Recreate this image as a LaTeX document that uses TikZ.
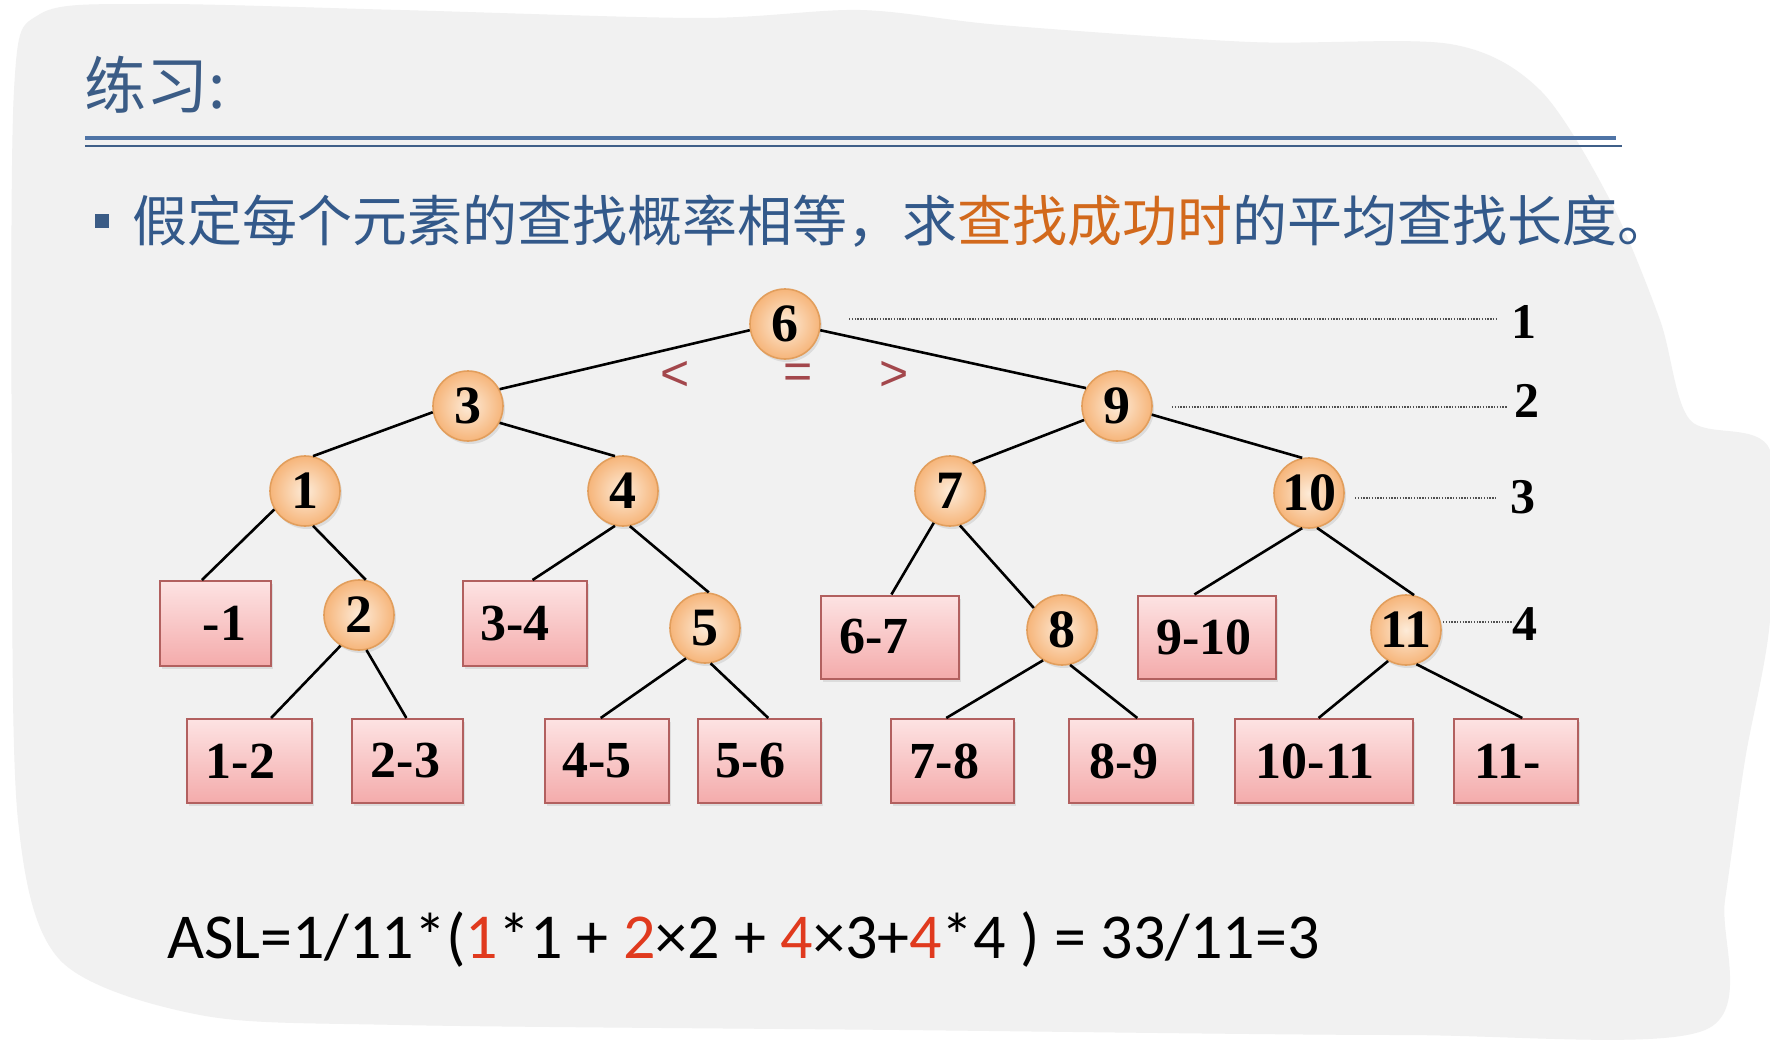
\documentclass[tikz,border=0pt]{standalone}
\usepackage{fontspec}
\usetikzlibrary{shadows,calc}
\newfontfamily\cjk{Noto Sans CJK SC}
\newfontfamily\numf{Liberation Serif}
\newfontfamily\calf{Carlito}
\newfontfamily\sansf{Liberation Sans}
\definecolor{bggray}{HTML}{F1F1F1}
\definecolor{titleblue}{HTML}{3B5C86}
\definecolor{textblue}{HTML}{33598A}
\definecolor{textorange}{HTML}{D2691C}
\definecolor{lineblue}{HTML}{4F74A6}
\definecolor{lineblue2}{HTML}{3F5F88}
\definecolor{circfill}{HTML}{F6B57A}
\definecolor{circin}{HTML}{FDEBD8}
\definecolor{circdraw}{HTML}{E29E5C}
\definecolor{boxtop}{HTML}{FDE3E3}
\definecolor{boxbot}{HTML}{F4ABAB}
\definecolor{boxdraw}{HTML}{B2605F}
\definecolor{cmpred}{HTML}{A3474C}
\definecolor{aslred}{HTML}{E03A1E}
\definecolor{dotgray}{HTML}{505050}
\tikzset{
  keynode/.style={circle, minimum size=70pt, inner sep=0pt, draw=circdraw, line width=1.6pt,
    inner color=circin, outer color=circfill,
    drop shadow={opacity=0.18, shadow xshift=2pt, shadow yshift=-3pt},
    font=\numf\bfseries\fontsize{54}{60}\selectfont},
  gapbox/.style={rectangle, minimum height=84pt, inner sep=0pt, draw=boxdraw, line width=2pt,
    top color=boxtop, bottom color=boxbot,
    drop shadow={opacity=0.18, shadow xshift=2pt, shadow yshift=-3pt},
    font=\numf\bfseries\fontsize{52}{58}\selectfont},
  edge/.style={line width=2.6pt, black},
  dotl/.style={line width=2pt, dotgray, dash pattern=on 1.4pt off 1.4pt},
  lvl/.style={inner sep=0pt, font=\numf\bfseries\fontsize{50}{56}\selectfont},
  cmp/.style={inner sep=0pt, text=cmpred, font=\sansf\fontsize{50}{56}\selectfont}
}
\begin{document}
\begin{tikzpicture}[x=1pt,y=-1pt]
\useasboundingbox (0,0) rectangle (1770,1046);
\fill[white] (0,0) rectangle (1770,1046);
\fill[bggray] plot[smooth cycle, tension=0.5] coordinates {(14,90) (40,14) (150,4) (400,10) (700,18) (860,10) (1000,25) (1250,42) (1450,44) (1540,90) (1610,200) (1660,320) (1690,420) (1770,450) (1770,620) (1745,760) (1725,900) (1705,1030) (1400,1035) (900,1030) (400,1025) (200,1015) (60,960) (18,820) (12,500)};

% header
\node[anchor=west, inner sep=0pt, text=titleblue, font=\cjk\fontsize{62}{68}\selectfont] (title) at (84,85) {练习:};
\draw[lineblue, line width=4pt] (85,138) coordinate (h1a) -- (1616,138) coordinate (h1b);
\draw[lineblue2, line width=2pt] (85,146) coordinate (h2a) -- (1622,146) coordinate (h2b);
\fill[titleblue] (95,214) rectangle (109,228);
\node[anchor=west, inner sep=0pt, text=textblue, font=\cjk\fontsize{55}{60}\selectfont] (task) at (132,221)
  {假定每个元素的查找概率相等，求\textcolor{textorange}{查找成功时}的平均查找长度。};

% tree keys
\node[keynode] (n6) at (785,324) {6};
\node[keynode] (n3) at (468,406) {3};
\node[keynode] (n9) at (1117,406) {9};
\node[keynode] (n1) at (305,491) {1};
\node[keynode] (n4) at (623,491) {4};
\node[keynode] (n7) at (950,491) {7};
\node[keynode] (n10) at (1309,493) {10};
\node[keynode] (n2) at (359,615) {2};
\node[keynode] (n5) at (705,628) {5};
\node[keynode] (n8) at (1062,630) {8};
\node[keynode] (n11) at (1406,630) {11};

% gap boxes
\node[gapbox, minimum width=111pt, minimum height=85pt] (bm1) at (215.5,623.5) {\kern18pt-1};
\node[gapbox, minimum width=124pt, minimum height=85pt] (b34) at (525,623.5) {3-4\kern20pt};
\node[gapbox, minimum width=138pt, minimum height=83pt] (b67) at (890,637) {6-7\kern32pt};
\node[gapbox, minimum width=138pt, minimum height=83pt] (b910) at (1207,637) {9-10\kern6pt};
\node[gapbox, minimum width=125pt] (b12) at (249.5,761) {1-2\kern18pt};
\node[gapbox, minimum width=111pt] (b23) at (407.5,761) {2-3\kern4pt};
\node[gapbox, minimum width=124pt] (b45) at (607,761) {4-5\kern20pt};
\node[gapbox, minimum width=123pt] (b56) at (759.5,761) {5-6\kern18pt};
\node[gapbox, minimum width=123pt] (b78) at (952.5,761) {7-8\kern16pt};
\node[gapbox, minimum width=124pt] (b89) at (1131,761) {8-9\kern14pt};
\node[gapbox, minimum width=178pt] (b1011) at (1324,761) {10-11\kern18pt};
\node[gapbox, minimum width=124pt] (b11) at (1516,761) {11-\kern16pt};

% edges
\draw[edge] (n6.-170) -- (n3.28);
\draw[edge] (n6.-10) -- (n9.150);
\draw[edge] (n3.-170) -- (n1.77);
\draw[edge] (n3.-28) -- (n4.103);
\draw[edge] (n1.-149) -- ($(bm1.north west)!0.38!(bm1.north east)$);
\draw[edge] (n1.-77) -- (n2.79);
\draw[edge] (n2.-121) -- ($(b12.north west)!0.67!(b12.north east)$);
\draw[edge] (n2.-78) -- ($(b23.north west)!0.49!(b23.north east)$);
\draw[edge] (n4.-103) -- ($(b34.north west)!0.56!(b34.north east)$);
\draw[edge] (n4.-79) -- (n5.84);
\draw[edge] (n5.-122) -- ($(b45.north west)!0.45!(b45.north east)$);
\draw[edge] (n5.-81) -- ($(b56.north west)!0.57!(b56.north east)$);
\draw[edge] (n9.-157) -- (n7.51);
\draw[edge] (n9.-14) -- (n10.101);
\draw[edge] (n7.-117) -- ($(b67.north west)!0.51!(b67.north east)$);
\draw[edge] (n7.-74) -- (n8.142);
\draw[edge] (n8.-122) -- ($(b78.north west)!0.45!(b78.north east)$);
\draw[edge] (n8.-77) -- ($(b89.north west)!0.55!(b89.north east)$);
\draw[edge] (n10.-101) -- ($(b910.north west)!0.41!(b910.north east)$);
\draw[edge] (n10.-77) -- (n11.77);
\draw[edge] (n11.-120) -- ($(b1011.north west)!0.47!(b1011.north east)$);
\draw[edge] (n11.-73) -- ($(b11.north west)!0.55!(b11.north east)$);

% comparison signs
\node[cmp] (lt) at (675,376) {<};
\node[cmp] (eq) at (798,376) {=};
\node[cmp] (gt) at (894,376) {>};

% levels
\node[lvl] (L1) at (1524,322) {1};
\node[lvl] (L2) at (1527,401) {2};
\node[lvl] (L3) at (1523,497) {3};
\node[lvl] (L4) at (1525,624) {4};
\coordinate (d1a) at (849,319);  \coordinate (d1b) at (1497,319);
\coordinate (d2a) at (1172,407); \coordinate (d2b) at (1507,407);
\coordinate (d3a) at (1355,498); \coordinate (d3b) at (1496,498);
\coordinate (d4a) at (1443,622); \coordinate (d4b) at (1513,622);
\draw[dotl] (d1a) -- (d1b);
\draw[dotl] (d2a) -- (d2b);
\draw[dotl] (d3a) -- (d3b);
\draw[dotl] (d4a) -- (d4b);

% ASL
\node[anchor=west, inner sep=0pt, font=\calf\fontsize{64}{70}\selectfont] (asl) at (167,940)
  {ASL=1/11*(\textcolor{aslred}{1}*1 + \textcolor{aslred}{2}×2 + \textcolor{aslred}{4}×3+\textcolor{aslred}{4}*4 ) = 33/11=3};
\end{tikzpicture}
\end{document}
